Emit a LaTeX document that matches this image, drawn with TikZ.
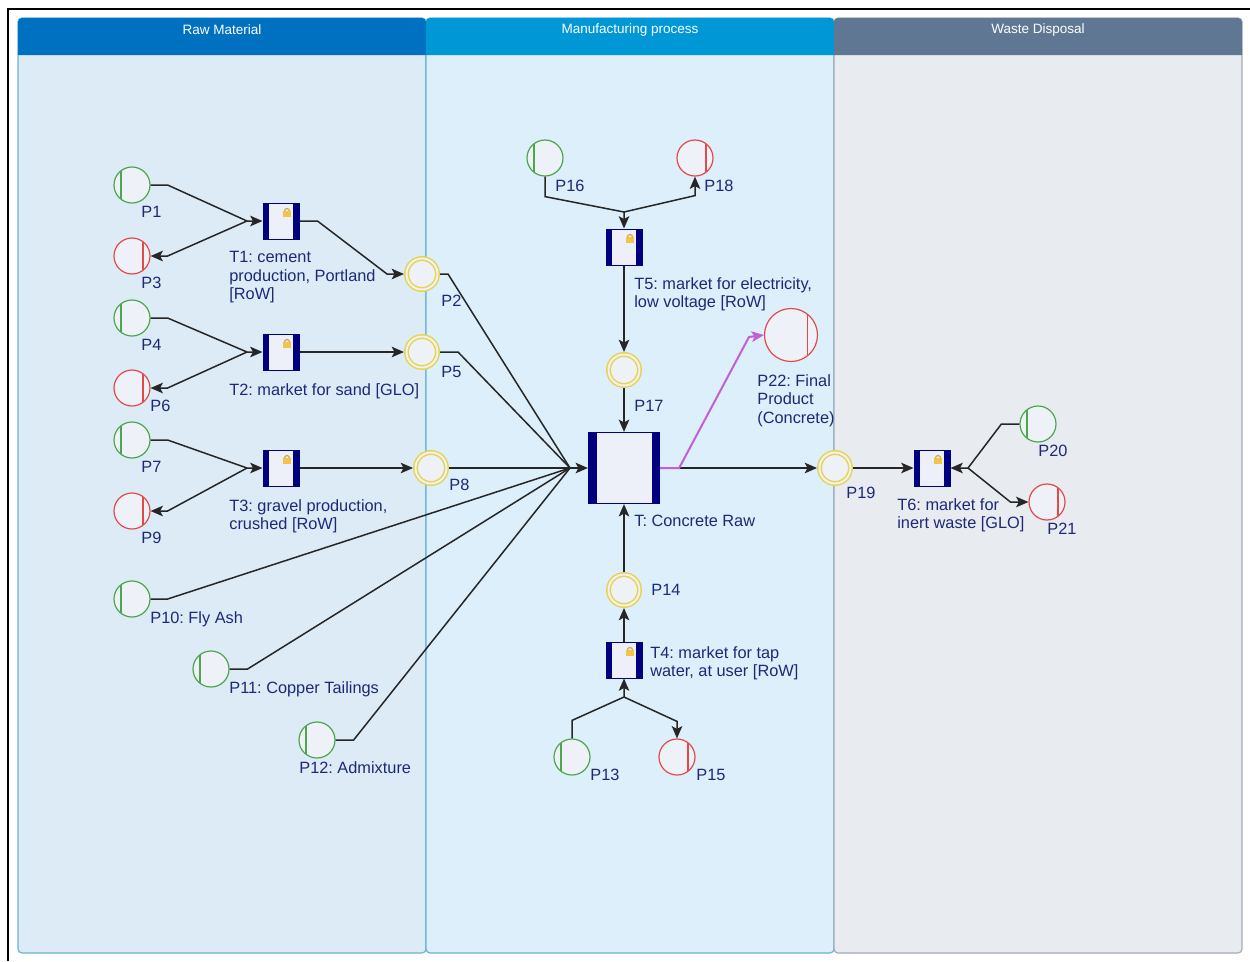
\documentclass[tikz,border=0pt]{standalone}
\usepackage{fontspec}
\setmainfont{Liberation Sans}
\frenchspacing
\usetikzlibrary{arrows.meta,calc}
\definecolor{rawhead}{HTML}{0071C1}
\definecolor{manhead}{HTML}{0097D7}
\definecolor{wastehead}{HTML}{5F7792}
\definecolor{rawbody}{HTML}{DDEBF7}
\definecolor{manbody}{HTML}{DCEFFA}
\definecolor{wastebody}{HTML}{E8EBF0}
\definecolor{laneline}{HTML}{6AB3D3}
\definecolor{wasteline}{HTML}{A3ABB5}
\definecolor{placefill}{HTML}{EEF2F8}
\definecolor{mygreen}{HTML}{4DA64D}
\definecolor{myred}{HTML}{E24A4A}
\definecolor{myyellow}{HTML}{E8D44C}
\definecolor{mynavy}{HTML}{00007F}
\definecolor{transfill}{HTML}{EEF0F9}
\definecolor{labelblue}{HTML}{1E2878}
\definecolor{mymagenta}{HTML}{C25FD6}
\definecolor{lockfill}{HTML}{F2C44A}
\newlength\pxu
\setlength\pxu{0.02cm}

\begin{document}
\begin{tikzpicture}[x=0.02cm,y=-0.02cm]
	\tikzset{% styles for lanes, places and transitions
		lanehead/.style={font=\fontsize{7.7}{9}\selectfont,text=white},
		greenplace/.style={circle,minimum size=36\pxu,inner sep=0,fill=placefill,draw=mygreen,line width=1.2\pxu,
			path picture={\draw[mygreen,line width=1.1\pxu] ([xshift=-11\pxu]path picture bounding box.north) -- ([xshift=-11\pxu]path picture bounding box.south);}},
		redplace/.style={circle,minimum size=36\pxu,inner sep=0,fill=placefill,draw=myred,line width=1.2\pxu,
			path picture={\draw[myred,line width=1.1\pxu] ([xshift=#1]path picture bounding box.north) -- ([xshift=#1]path picture bounding box.south);}},
		redplace/.default=11\pxu,
		yellowplace/.style={circle,minimum size=31\pxu,inner sep=0,fill=placefill,draw=myyellow,double=placefill,double distance=2\pxu,line width=1.5\pxu,outer sep=2.5\pxu},
		transnode/.style={rectangle,minimum width=36\pxu,minimum height=36\pxu,inner sep=0,fill=transfill,draw=mynavy,line width=1\pxu,
			path picture={
				\fill[mynavy] (path picture bounding box.south west) rectangle ([xshift=6\pxu]path picture bounding box.north west);
				\fill[mynavy] ([xshift=-6\pxu]path picture bounding box.south east) rectangle (path picture bounding box.north east);
				\fill[lockfill] ([xshift=2\pxu,yshift=4\pxu]path picture bounding box.center) rectangle ([xshift=10\pxu,yshift=10\pxu]path picture bounding box.center);
				\draw[lockfill!85!black,line width=1.2\pxu] ([xshift=3.5\pxu,yshift=10\pxu]path picture bounding box.center) arc[start angle=180,end angle=0,radius=2.5\pxu];}},
		bigtransnode/.style={rectangle,minimum width=71\pxu,minimum height=71\pxu,inner sep=0,fill=transfill,draw=mynavy,line width=1.2\pxu,
			path picture={
				\fill[mynavy] (path picture bounding box.south west) rectangle ([xshift=8\pxu]path picture bounding box.north west);
				\fill[mynavy] ([xshift=-8\pxu]path picture bounding box.south east) rectangle (path picture bounding box.north east);}},
		labeltext/.style={anchor=north west,inner sep=0,align=left,text=labelblue,font=\fontsize{9.3}{10.5}\selectfont},
		plainline/.style={line width=1.5\pxu,black!85},
		flowline/.style={plainline,-{Stealth[length=7pt,width=6pt,inset=1.6pt]}}}
	\useasboundingbox (0,0) rectangle (1250,961);

	% swim lanes
	\draw[fill=rawbody,draw=laneline,line width=1.2\pxu,rounded corners=4\pxu] (18,18) rectangle (426,953);
	\draw[fill=manbody,draw=laneline,line width=1.2\pxu,rounded corners=4\pxu] (426,18) rectangle (834,953);
	\draw[fill=wastebody,draw=wasteline,line width=1.2\pxu,rounded corners=4\pxu] (834,18) rectangle (1242,953);
	\fill[rawhead] (18,55) [rounded corners=4\pxu] -- (18,18) -- (426,18) [sharp corners] -- (426,55) -- cycle;
	\fill[manhead] (426,55) [rounded corners=4\pxu] -- (426,18) -- (834,18) [sharp corners] -- (834,55) -- cycle;
	\fill[wastehead] (834,55) [rounded corners=4\pxu] -- (834,18) -- (1242,18) [sharp corners] -- (1242,55) -- cycle;
	\node[lanehead] (hraw) at (222,30) {Raw Material};
	\node[lanehead] (hman) at (630,30) {Manufacturing process};
	\node[lanehead] (hwaste) at (1038,30) {Waste Disposal};
	\draw[line width=2.5\pxu] (8,961) -- (8,9) -- (1250,9);

	% places and transitions
	\node[greenplace] (p1) at (132,185) {};
	\node[redplace] (p3) at (132,256) {};
	\node[transnode] (t1) at (281,221) {};
	\node[yellowplace] (p2) at (422,274) {};
	\node[greenplace] (p4) at (132,318) {};
	\node[redplace] (p6) at (132,388) {};
	\node[transnode] (t2) at (281,352) {};
	\node[yellowplace] (p5) at (422,352) {};
	\node[greenplace] (p7) at (132,440) {};
	\node[redplace] (p9) at (132,511) {};
	\node[transnode] (t3) at (281,468) {};
	\node[yellowplace] (p8) at (431,468) {};
	\node[greenplace] (p10) at (132,599) {};
	\node[greenplace] (p11) at (211,669) {};
	\node[greenplace] (p12) at (317,740) {};
	\node[bigtransnode] (t) at (624,468) {};
	\node[greenplace] (p16) at (545,158) {};
	\node[redplace] (p18) at (695,158) {};
	\node[transnode] (t5) at (624,247) {};
	\node[yellowplace] (p17) at (624,370) {};
	\node[redplace=16.5\pxu,minimum size=53\pxu] (p22) at (791,335) {};
	\node[yellowplace] (p19) at (835,468) {};
	\node[transnode] (t6) at (932,468) {};
	\node[greenplace] (p20) at (1038,424) {};
	\node[redplace] (p21) at (1047,502) {};
	\node[yellowplace] (p14) at (624,590) {};
	\node[transnode] (t4) at (624,660) {};
	\node[greenplace] (p13) at (572,757) {};
	\node[redplace] (p15) at (677,757) {};

	% labels
	\node[labeltext] (lp1) at (141,206) {P1};
	\node[labeltext] (lp3) at (141,277) {P3};
	\node[labeltext] (lt1) at (229,251) {T1: cement\\production, Portland\\{[RoW]}};
	\node[labeltext] (lp2) at (441,295) {P2};
	\node[labeltext] (lp4) at (141,339) {P4};
	\node[labeltext] (lp6) at (150,400) {P6};
	\node[labeltext] (lt2) at (229,383) {T2: market for sand [GLO]};
	\node[labeltext] (lp5) at (441,366) {P5};
	\node[labeltext] (lp7) at (141,461) {P7};
	\node[labeltext] (lp9) at (141,532) {P9};
	\node[labeltext] (lt3) at (229,499) {T3: gravel production,\\crushed [RoW]};
	\node[labeltext] (lp8) at (449,479) {P8};
	\node[labeltext] (lp10) at (150,611) {P10: Fly Ash};
	\node[labeltext] (lp11) at (229,681) {P11: Copper Tailings};
	\node[labeltext] (lp12) at (299,761) {P12: Admixture};
	\node[labeltext] (lt) at (634,515) {T: Concrete Raw};
	\node[labeltext] (lp16) at (555,180) {P16};
	\node[labeltext] (lp18) at (704,180) {P18};
	\node[labeltext] (lt5) at (634,277) {T5: market for electricity,\\low voltage [RoW]};
	\node[labeltext] (lp17) at (634,400) {P17};
	\node[labeltext] (lp22) at (757,374) {P22: Final\\Product\\(Concrete)};
	\node[labeltext] (lp19) at (846,487) {P19};
	\node[labeltext] (lt6) at (897,498) {T6: market for\\inert waste [GLO]};
	\node[labeltext] (lp20) at (1038,445) {P20};
	\node[labeltext] (lp21) at (1047,523) {P21};
	\node[labeltext] (lp14) at (651,584) {P14};
	\node[labeltext] (lt4) at (650,646) {T4: market for tap\\water, at user [RoW]};
	\node[labeltext] (lp13) at (590,769) {P13};
	\node[labeltext] (lp15) at (696,769) {P15};

	% junction points
	\coordinate (j1) at (247,221);
	\coordinate (j2) at (247,352);
	\coordinate (j3) at (247,468);
	\coordinate (jt) at (570,468);
	\coordinate (j5) at (624,212);
	\coordinate (j4) at (624,697);
	\coordinate (j6) at (968,468);

	% arcs
	\draw[flowline] (p1.east) -- ++(17,0) -- (j1) -- (t1.west);
	\draw[flowline] (j1) -- ($(p3.east)+(17,0)$) -- (p3.east);
	\draw[flowline] (t1.east) -- ++(18,0) -- ($(p2.west)+(-17,0)$) -- (p2.west);
	\draw[flowline] (p4.east) -- ++(17,0) -- (j2) -- (t2.west);
	\draw[flowline] (j2) -- ($(p6.east)+(17,0)$) -- (p6.east);
	\draw[flowline] (t2.east) -- (p5.west);
	\draw[flowline] (p7.east) -- ++(17,0) -- (j3) -- (t3.west);
	\draw[flowline] (j3) -- ($(p9.east)+(17,0)$) -- (p9.east);
	\draw[flowline] (t3.east) -- (p8.west);
	\draw[plainline] (p2.east) -- ++(8,0) -- (jt);
	\draw[plainline] (p5.east) -- ++(18,0) -- (jt);
	\draw[plainline] (p8.east) -- (jt);
	\draw[plainline] (p10.east) -- ++(17,0) -- (jt);
	\draw[plainline] (p11.east) -- ++(18,0) -- (jt);
	\draw[plainline] (p12.east) -- ++(18,0) -- (jt);
	\draw[flowline] (jt) -- (t.west);
	\draw[flowline] (p16.south) -- ++(0,20) -- (j5) -- (t5.north);
	\draw[flowline] (j5) -- ($(p18.south)+(0,19)$) -- (p18.south);
	\draw[flowline] (t5.south) -- (p17.north);
	\draw[flowline] (p17.south) -- (t.north);
	\draw[flowline] (p13.north) -- ++(0,-18) -- (j4) -- (t4.south);
	\draw[flowline] (j4) -- ($(p15.north)+(0,-17)$) -- (p15.north);
	\draw[flowline] (t4.north) -- (p14.south);
	\draw[flowline] (p14.north) -- (t.south);
	\draw[flowline] (t.east) -- (p19.west);
	\draw[flowline,mymagenta,line width=2\pxu] (t.east) -- ++(19,0) -- (749,337) -- (p22.west);
	\draw[flowline] (p19.east) -- (t6.west);
	\draw[flowline] (p20.west) -- ++(-18,0) -- (j6) -- (t6.east);
	\draw[flowline] (j6) -- ($(p21.west)+(-18,0)$) -- (p21.west);
\end{tikzpicture}
\end{document}
